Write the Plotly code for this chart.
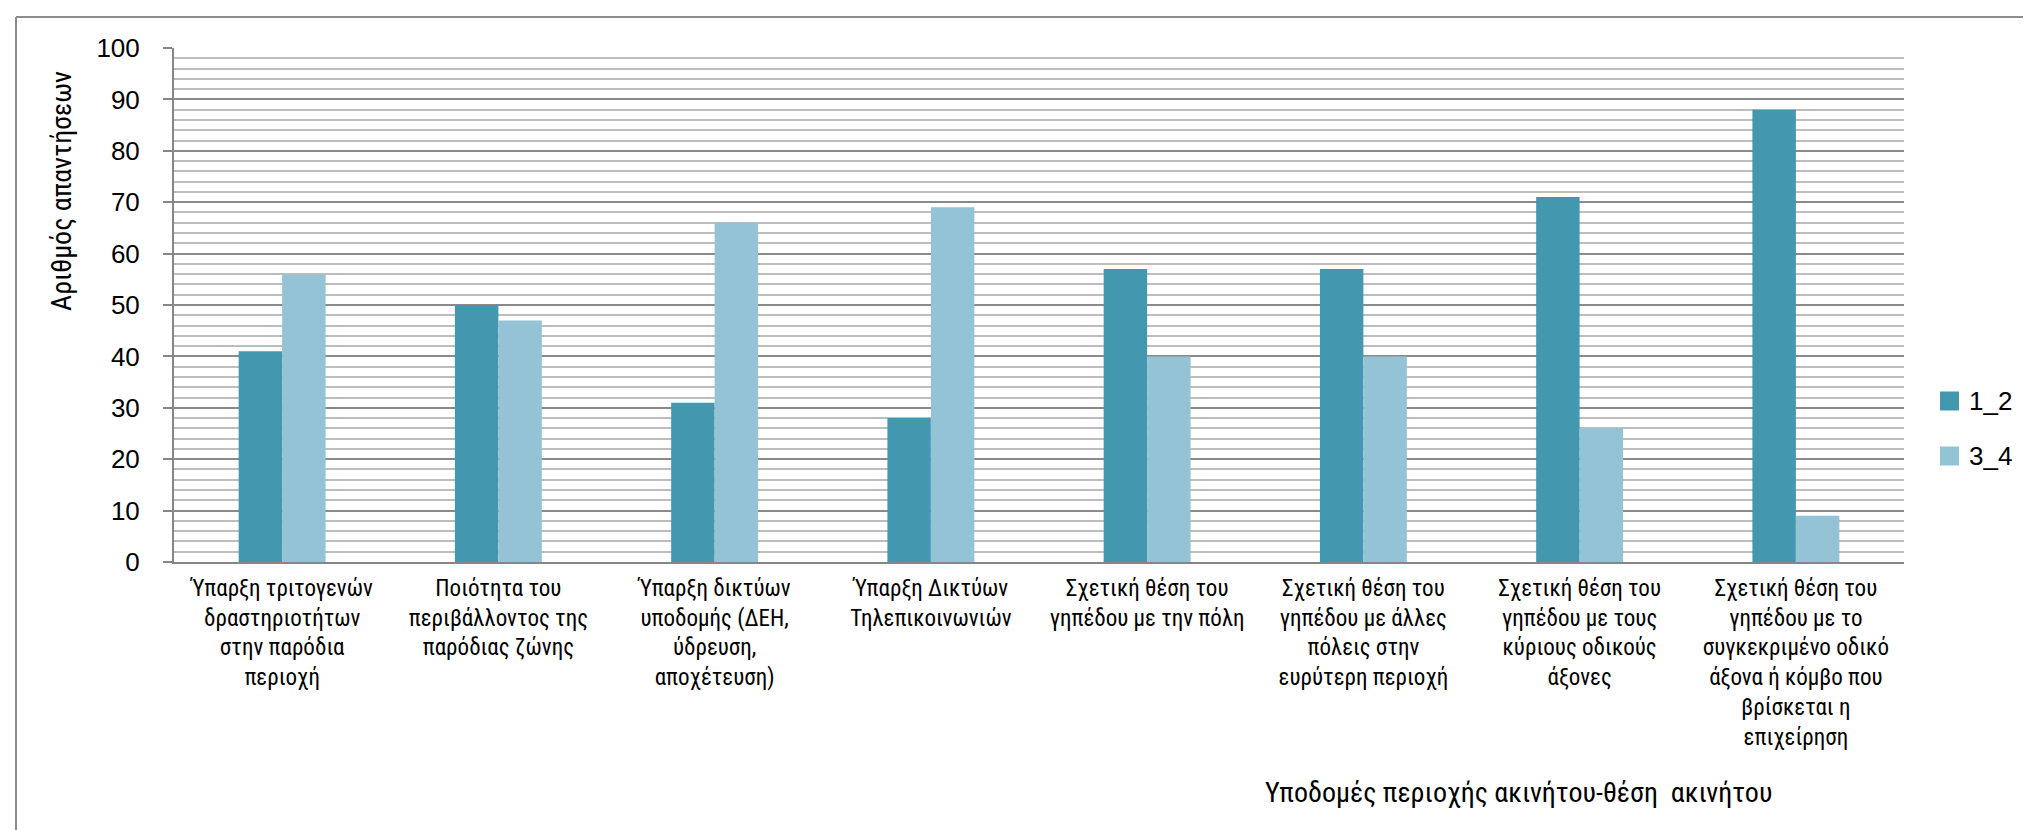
import plotly.graph_objects as go

# ---------------- data ----------------
categories = [
    "Ύπαρξη τριτογενών<br>δραστηριοτήτων<br>στην παρόδια<br>περιοχή",
    "Ποιότητα του<br>περιβάλλοντος της<br>παρόδιας ζώνης",
    "Ύπαρξη δικτύων<br>υποδομής (ΔΕΗ,<br>ύδρευση,<br>αποχέτευση)",
    "Ύπαρξη Δικτύων<br>Τηλεπικοινωνιών",
    "Σχετική θέση του<br>γηπέδου με την πόλη",
    "Σχετική θέση του<br>γηπέδου με άλλες<br>πόλεις στην<br>ευρύτερη περιοχή",
    "Σχετική θέση του<br>γηπέδου με τους<br>κύριους οδικούς<br>άξονες",
    "Σχετική θέση του<br>γηπέδου με το<br>συγκεκριμένο οδικό<br>άξονα ή κόμβο που<br>βρίσκεται η<br>επιχείρηση",
]
series_names = ["1_2", "3_4"]
values_1_2 = [41, 50, 31, 28, 57, 57, 71, 88]
values_3_4 = [56, 47, 66, 69, 40, 40, 26, 9]
y_tick_values = [0, 10, 20, 30, 40, 50, 60, 70, 80, 90, 100]
x_title = "Υποδομές περιοχής ακινήτου-θέση  ακινήτου"
y_title = "Αριθμός απαντήσεων"

# ---------------- style ----------------
colors = ["#4398AF", "#93C3D4"]
COND = "Roboto Condensed, Liberation Sans, sans-serif"
REG = "Liberation Sans, Arial, sans-serif"

W, H = 2031, 830
L, R, T, B = 166, 1896, 40, 554


def px_x(px):
    return (px - L) / (R - L)


def px_y(py):
    return (B - py) / (B - T)


fig = go.Figure()
for name, vals, col in zip(series_names, [values_1_2, values_3_4], colors):
    fig.add_trace(go.Bar(
        x=categories, y=vals, name=name,
        marker=dict(color=col, line=dict(width=0)),
        showlegend=False,
    ))

fig.update_layout(
    width=W, height=H,
    margin=dict(l=L, r=W - R, t=T, b=H - B, pad=0),
    paper_bgcolor="white", plot_bgcolor="white",
    barmode="group", bargap=0.598, bargroupgap=0,
    font=dict(family=COND, color="black"),
)

fig.update_xaxes(
    showline=True, linecolor="#868686", linewidth=2,
    ticks="", tickangle=0, showgrid=False, zeroline=False,
    tickfont=dict(size=23, family=COND, color="black"),
    ticklabelstandoff=4,
)

fig.update_yaxes(
    range=[0, 100], tickmode="array", tickvals=y_tick_values,
    showline=True, linecolor="#868686", linewidth=2,
    ticks="outside", ticklen=9, tickcolor="#868686", tickwidth=2,
    showgrid=True, gridcolor="#8a8a8a", gridwidth=2,
    minor=dict(dtick=2, tick0=0, showgrid=True, gridcolor="#bdbdbd", gridwidth=2, ticks=""),
    zeroline=False,
    tickfont=dict(size=26, family=REG, color="black"),
    ticklabelstandoff=18,
)

shapes = []
# outer chart frame (top and left edges visible)
shapes.append(dict(type="line", xref="paper", yref="paper",
                   x0=px_x(8), x1=px_x(2040), y0=px_y(9), y1=px_y(9),
                   line=dict(color="#8c8c8c", width=2)))
shapes.append(dict(type="line", xref="paper", yref="paper",
                   x0=px_x(8), x1=px_x(8), y0=px_y(9), y1=px_y(840),
                   line=dict(color="#8c8c8c", width=2)))

annotations = []
# custom legend
legend_y = [393, 448]
for name, col, cy in zip(series_names, colors, legend_y):
    shapes.append(dict(type="rect", xref="paper", yref="paper",
                       x0=px_x(1932), x1=px_x(1951), y0=px_y(cy - 9.5), y1=px_y(cy + 9.5),
                       fillcolor=col, line=dict(width=0)))
    annotations.append(dict(text=name, xref="paper", yref="paper",
                            x=px_x(1959), y=px_y(cy), xanchor="left", yanchor="middle",
                            showarrow=False, font=dict(size=26, family=REG, color="black")))

annotations.append(dict(text=x_title, xref="paper", yref="paper",
                        x=px_x(1510), y=px_y(784), xanchor="center", yanchor="middle",
                        showarrow=False, font=dict(size=28, family=COND, color="black")))
annotations.append(dict(text=y_title, xref="paper", yref="paper",
                        x=px_x(53), y=px_y(183), xanchor="center", yanchor="middle",
                        textangle=-90, showarrow=False,
                        font=dict(size=28, family=COND, color="black")))

fig.update_layout(shapes=shapes, annotations=annotations)

fig.write_html("out.html")
